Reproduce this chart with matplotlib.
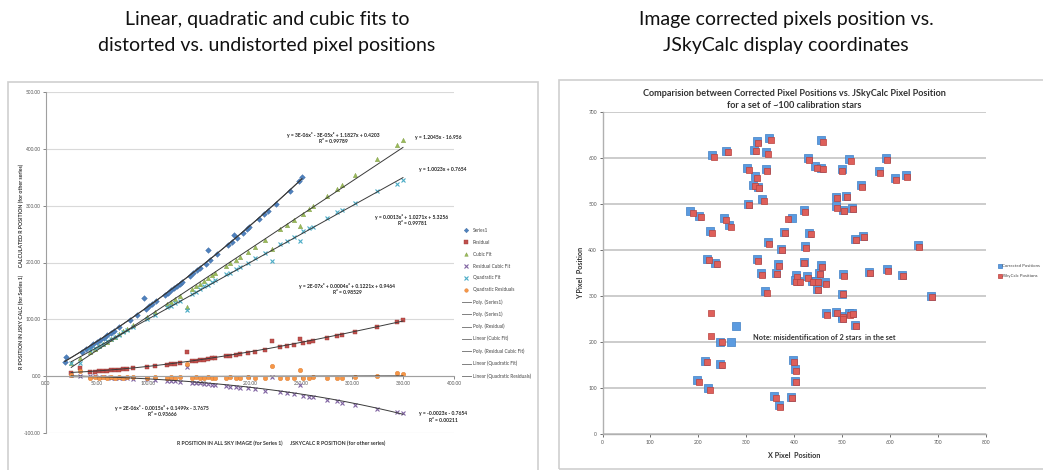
import numpy as np
import matplotlib
matplotlib.use('Agg')
import matplotlib.pyplot as plt
from matplotlib.patches import Rectangle

plt.rcParams['font.family'] = ['Lato', 'DejaVu Sans']

# ---------------- left chart data ----------------
jsky_r = [25, 34, 43, 48, 52, 56, 60, 64, 68, 72, 76, 80, 86, 99, 107, 119, 123, 127, 132, 138,
          143, 147, 151, 155, 159, 163, 166, 177, 181, 186, 190, 198, 205, 215, 222, 230, 236, 243,
          249, 252, 258, 262, 276, 285, 290, 303, 325, 344, 350]
s1_img_r = [18.7, 20, 35.1, 39.6, 43.1, 46.6, 50, 53.5, 56.9, 60.3, 63.7, 67, 72, 82.6, 89, 98.4,
            101.5, 104.6, 108.4, 96, 116.8, 119.8, 122.8, 125.7, 128.7, 131.6, 133.8, 141.7, 144.6,
            148.1, 151, 156.6, 161.4, 168.3, 159.4, 178.4, 182.5, 187.1, 184, 193, 196.9, 199.5,
            208.5, 214.2, 217.3, 225.5, 239, 248, 251]
residual = [6.3, 14, 7.9, 8.4, 8.9, 9.4, 10, 10.5, 11.1, 11.7, 12.3, 13, 14, 16.4, 18, 20.6, 21.5,
            22.4, 23.6, 42, 26.2, 27.2, 28.2, 29.3, 30.3, 31.4, 32.2, 35.3, 36.4, 37.9, 39, 41.4,
            43.6, 46.7, 62.6, 51.6, 53.5, 55.9, 65, 59, 61.1, 62.5, 67.5, 70.8, 72.7, 77.5, 86, 96, 99]
cubic_fit = [23, 33, 43, 48, 53, 57, 61, 66, 70, 74, 79, 83, 90, 104, 113, 127, 131, 136, 142, 121,
             154, 159, 163, 168, 173, 178, 181, 194, 199, 205, 210, 219, 228, 240, 223, 258, 266,
             274, 264, 286, 294, 299, 317, 329, 336, 353, 382, 406, 415]
residual_cubic = [2, 1, 0, 0, -1, -1, -1, -2, -2, -2, -3, -3, -4, -5, -6, -8, -8, -9, -10, 17, -11,
                  -12, -12, -13, -14, -15, -15, -17, -18, -19, -20, -21, -23, -25, -1, -28, -30,
                  -31, -15, -34, -36, -37, -41, -44, -46, -50, -57, -62, -65]
quad_fit = [23, 24, 46, 49, 54, 57, 62, 65, 70, 73, 78, 81, 87, 101, 108, 121, 124, 129, 133, 116,
            145, 148, 153, 158, 160, 165, 169, 179, 182, 189, 192, 199, 208, 217, 203, 233, 238,
            245, 237, 255, 260, 263, 278, 288, 292, 304, 325, 338, 345]
quad_residuals = [2, 10, -3, -1, -2, -1, -2, -1, -2, -1, -2, -1, -1, -2, -1, -2, -1, -2, -1, 22, -2,
                  -1, -2, -3, -1, -2, -3, -2, -1, -3, -2, -1, -3, -2, 19, -3, -2, -2, 12, -3, -2,
                  -1, -2, -3, -2, -1, 0, 6, 5]

left_xticks = [0, 50, 100, 150, 200, 250, 300, 350, 400]
left_yticks = [-100, 0, 100, 200, 300, 400, 500]

equations = [
    ("y = 3E-06x³ - 3E-05x² + 1.1827x + 0.4203\nR² = 0.99789", 333, 138),
    ("y = 1.2045x - 16.956", 438, 137),
    ("y = 1.0023x + 0.7654", 443, 169),
    ("y = 0.0013x² + 1.0271x + 5.3256\nR² = 0.99781", 412, 220),
    ("y = 2E-07x³ + 0.0004x² + 0.1221x + 0.9464\nR² = 0.98529", 347, 289),
    ("y = 2E-06x³ - 0.0015x² + 0.1499x - 3.7675\nR² = 0.93666", 162, 411),
    ("y = -0.0023x - 0.7654\nR² = 0.00211", 443, 417),
]

# ---------------- right chart data ----------------
jsky_x = [233, 261, 325, 320, 351, 345, 306, 322, 319, 327, 344, 306, 337, 188, 206, 258, 268, 228,
          388, 380, 348, 374, 223, 238, 325, 368, 332, 364, 407, 431, 448, 423, 435, 425, 421, 405,
          412, 428, 440, 449, 449, 343, 226, 460, 460, 518, 501, 593, 580, 613, 635, 541, 489, 510,
          489, 504, 522, 529, 545, 660, 458, 454, 467, 504, 502, 558, 595, 627, 687, 468, 490, 502,
          517, 522, 503, 529, 400, 404, 403, 396, 371, 227, 250, 219, 249, 202, 224, 362]
jsky_y = [603, 612, 632, 615, 639, 609, 575, 557, 539, 534, 572, 498, 507, 481, 472, 465, 451, 438,
          467, 436, 414, 399, 378, 369, 376, 366, 346, 348, 342, 596, 579, 483, 434, 404, 372, 331,
          330, 340, 330, 330, 313, 307, 262, 635, 576, 594, 572, 596, 568, 552, 558, 538, 513, 515,
          492, 485, 489, 421, 428, 407, 364, 348, 327, 344, 304, 350, 355, 343, 297, 259, 262, 254,
          259, 260, 249, 235, 157, 138, 112, 78, 59, 212, 201, 156, 149, 112, 96, 78]
corr_x = [229, 257, 322, 316, 348, 341, 302, 318, 315, 324, 341, 303, 334, 183, 202, 254, 265, 224,
          395, 378, 345, 372, 218, 235, 323, 366, 330, 362, 404, 428, 444, 421, 432, 423, 420, 401,
          409, 426, 437, 446, 447, 340, 279, 457, 457, 515, 499, 591, 578, 611, 633, 539, 487, 508,
          487, 502, 520, 527, 543, 658, 456, 451, 465, 502, 501, 556, 593, 625, 686, 466, 488, 501,
          515, 520, 501, 527, 398, 402, 401, 393, 368, 268, 246, 215, 246, 198, 221, 359]
corr_y = [606, 615, 636, 618, 643, 612, 578, 561, 542, 537, 576, 501, 510, 485, 475, 469, 454, 441,
          470, 439, 417, 402, 381, 372, 380, 369, 349, 351, 346, 600, 582, 486, 438, 408, 373, 334,
          333, 344, 333, 333, 316, 311, 235, 639, 579, 598, 576, 600, 572, 556, 562, 542, 516, 518,
          495, 488, 492, 424, 431, 411, 368, 351, 330, 348, 305, 353, 358, 346, 301, 262, 265, 257,
          262, 263, 252, 238, 160, 141, 115, 81, 63, 200, 199, 159, 152, 117, 101, 82]

right_xticks = [0, 100, 200, 300, 400, 500, 600, 700, 800]
right_yticks = [0, 100, 200, 300, 400, 500, 600, 700]

# ---------------- figure ----------------
W, H = 1043, 470
fig = plt.figure(figsize=(W / 100, H / 100), dpi=100)
fig.patch.set_facecolor('white')

def fx(x):
    return x / W

def fy(y):
    return 1 - y / H

# slide titles
title_kw = dict(ha='center', va='center', fontsize=14, color='#111111')
fig.text(fx(267), fy(19), "Linear, quadratic and cubic fits to", **title_kw)
fig.text(fx(267), fy(46), "distorted vs. undistorted pixel positions", **title_kw)
fig.text(fx(786), fy(19), "Image corrected pixels position vs.", **title_kw)
fig.text(fx(786), fy(46), "JSkyCalc display coordinates", **title_kw)

# chart area boxes
fig.add_artist(Rectangle((fx(8), fy(472)), (538 - 8) / W, (472 - 82) / H, transform=fig.transFigure,
                         fill=False, ec='#CFCFCF', lw=1.2))
fig.add_artist(Rectangle((fx(559), fy(469)), (1050 - 559) / W, (469 - 80) / H, transform=fig.transFigure,
                         fill=False, ec='#CFCFCF', lw=1.2))

# ---------------- left chart ----------------
ax1 = fig.add_axes([fx(45.7), fy(433.3), (454 - 45.7) / W, (433.3 - 91.7) / H])
ax1.set_xlim(0, 400)
ax1.set_ylim(-100, 500)
ax1.set_yticks(left_yticks)
ax1.set_yticklabels([f"{v:.2f}" for v in left_yticks])
ax1.set_xticks(left_xticks)
ax1.set_xticklabels([f"{v:.2f}" for v in left_xticks])
ax1.grid(axis='y', color='#D9D9D9', lw=0.8)
ax1.set_axisbelow(True)
for s in ['top', 'right']:
    ax1.spines[s].set_visible(False)
ax1.spines['bottom'].set_position(('data', 0))
ax1.spines['bottom'].set_color('#A0A0A0')
ax1.spines['left'].set_color('#A0A0A0')
ax1.spines['bottom'].set_linewidth(0.8)
ax1.spines['left'].set_linewidth(0.8)
ax1.tick_params(axis='both', labelsize=3.4, colors='#555555', length=2, width=0.5, pad=1.5)

ms = 3.2
h_s1, = ax1.plot(s1_img_r, jsky_r, 'D', ms=ms * 0.9, color='#4F81BD', mec='#3A6AA3', mew=0.3, label='Series1')
h_res, = ax1.plot(jsky_r, residual, 's', ms=ms, color='#C0504D', mec='#9E3A37', mew=0.3, label='Residual')
h_cub, = ax1.plot(jsky_r, cubic_fit, '^', ms=ms, color='#9BBB59', mec='#7E9C45', mew=0.3, label='Cubic Fit')
h_rcf, = ax1.plot(jsky_r, residual_cubic, 'x', ms=ms, color='#8064A2', mew=0.8, label='Residual Cubic Fit')
h_qf, = ax1.plot(jsky_r, quad_fit, 'x', ms=ms, color='#4BACC6', mew=0.8, label='Quadratic Fit')
h_qr, = ax1.plot(jsky_r, quad_residuals, 'o', ms=ms, color='#F79646', mec='#D9782A', mew=0.3, label='Quadratic Residuals')

tl_color = '#3A3A3A'
tl_lw = 0.7
xs1 = np.linspace(min(s1_img_r), max(s1_img_r), 200)
xr = np.linspace(min(jsky_r), max(jsky_r), 200)
h_t1, = ax1.plot(xs1, np.polyval(np.polyfit(s1_img_r, jsky_r, 3), xs1), color=tl_color, lw=tl_lw, label='Poly. (Series1)')
h_t2, = ax1.plot(xs1, np.polyval(np.polyfit(s1_img_r, jsky_r, 2), xs1), color=tl_color, lw=tl_lw, label='Poly. (Series1)')
h_t3, = ax1.plot(xr, np.polyval(np.polyfit(jsky_r, residual, 3), xr), color=tl_color, lw=tl_lw, label='Poly. (Residual)')
h_t4, = ax1.plot(xr, np.polyval(np.polyfit(jsky_r, cubic_fit, 1), xr), color=tl_color, lw=tl_lw, label='Linear (Cubic Fit)')
h_t5, = ax1.plot(xr, np.polyval(np.polyfit(jsky_r, residual_cubic, 3), xr), color=tl_color, lw=tl_lw, label='Poly. (Residual Cubic Fit)')
h_t6, = ax1.plot(xr, np.polyval(np.polyfit(jsky_r, quad_fit, 1), xr), color=tl_color, lw=tl_lw, label='Linear (Quadratic Fit)')
h_t7, = ax1.plot(xr, np.polyval(np.polyfit(jsky_r, quad_residuals, 1), xr), color=tl_color, lw=tl_lw, label='Linear (Quadratic Residuals)')

handles = [h_s1, h_res, h_cub, h_rcf, h_qf, h_qr, h_t1, h_t2, h_t3, h_t4, h_t5, h_t6, h_t7]
leg1 = fig.legend(handles=handles, labels=[h.get_label() for h in handles], loc='upper left',
                  bbox_to_anchor=(fx(462), fy(228)), frameon=False, fontsize=3.4,
                  labelspacing=1.45, handlelength=1.9, handletextpad=0.4, borderpad=0,
                  borderaxespad=0, markerscale=0.8)
for t in leg1.get_texts():
    t.set_color('#444444')
for lh in leg1.get_lines():
    if lh.get_linestyle() != 'None':
        lh.set_color('#808080')

for txt, x, y in equations:
    fig.text(fx(x), fy(y), txt, ha='center', va='center', fontsize=3.6, color='#222222',
             linespacing=1.35, fontweight='bold')

fig.text(fx(21), fy(266), "R POSITION IN JSKY CALC (for Series 1)      CALCULATED R POSITION (for other series)",
         rotation=90, ha='center', va='center', fontsize=3.8, fontweight='bold', color='#333333')
fig.text(fx(281), fy(443), "R POSITION IN ALL SKY IMAGE (for Series 1)      JSKYCALC R POSITION (for other series)",
         ha='center', va='center', fontsize=3.8, fontweight='bold', color='#333333')

# ---------------- right chart ----------------
ax2 = fig.add_axes([fx(602.5), fy(434), (985.7 - 602.5) / W, (434 - 112) / H])
ax2.set_xlim(0, 800)
ax2.set_ylim(0, 700)
ax2.set_xticks(right_xticks)
ax2.set_yticks(right_yticks)
ax2.grid(axis='y', color='#C8C8C8', lw=1.3)
ax2.set_axisbelow(True)
for s in ['top', 'right']:
    ax2.spines[s].set_visible(False)
for s in ['bottom', 'left']:
    ax2.spines[s].set_color('#B0B0B0')
    ax2.spines[s].set_linewidth(1.0)
ax2.tick_params(axis='both', labelsize=3.6, colors='#555555', length=2, width=0.6, pad=2)

ax2.scatter(corr_x, corr_y, marker='s', s=26, color='#5B9BE0', edgecolors='#3F7FC4', linewidths=0.5,
            label='Corrected Positions', zorder=3)
ax2.scatter(jsky_x, jsky_y, marker='s', s=22, color='#DE5F5A', edgecolors='#B8423E', linewidths=0.5,
            label='JSkyCalc Positions', zorder=4)

ax2.set_title("Comparision between Corrected Pixel Positions vs. JSkyCalc Pixel Position\nfor a set of ~100 calibration stars",
              fontsize=6.6, fontweight='bold', color='#333333', pad=3, linespacing=1.35)
ax2.set_xlabel("X Pixel  Position", fontsize=5.2, fontweight='bold', color='#333333', labelpad=5)
ax2.set_ylabel("Y Pixel  Position", fontsize=5.2, fontweight='bold', color='#333333', labelpad=3)
ax2.text(314, 210, "Note: misidentification of 2 stars  in the set", fontsize=5.3, fontweight='bold',
         color='#333333', ha='left', va='center')

leg2 = ax2.legend(loc='upper left', bbox_to_anchor=(fx(998), fy(264)), bbox_transform=fig.transFigure,
                  frameon=False, fontsize=3.2, handletextpad=0.1, labelspacing=1.3, borderpad=0,
                  borderaxespad=0, markerscale=0.55, handlelength=0.8)
for t in leg2.get_texts():
    t.set_color('#444444')

fig.savefig('out.png', dpi=100, facecolor='white')
